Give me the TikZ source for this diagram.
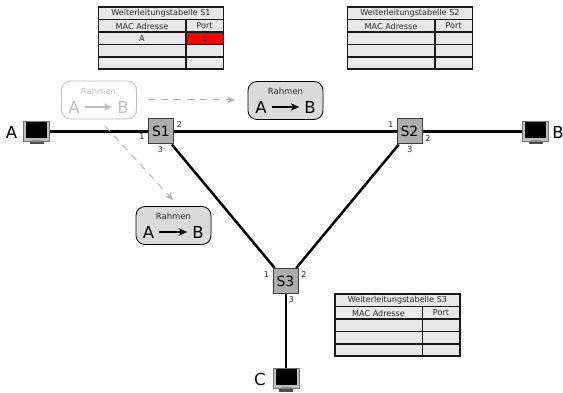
\documentclass[tikz,border=0pt]{standalone}
\usepackage{fontspec}
\setmainfont{DejaVu Sans}
\usetikzlibrary{arrows.meta}
\tikzset{x=1pt,y=-1pt,
 switchbox/.style={draw=black!75,fill=black!32,line width=1pt,minimum size=25pt,inner sep=0pt,font=\fontsize{14}{14}\selectfont},
 link/.style={line width=2.5pt,black},
 portlabel/.style={font=\fontsize{8}{8}\selectfont,inner sep=0pt,text=black!85},
 hostlabel/.style={font=\fontsize{16.5}{16.5}\selectfont,inner sep=0pt},
 hostbox/.style={draw=black!55,fill=black!25,line width=.7pt,minimum width=26pt,minimum height=20pt,inner sep=0pt},
 frame/.style={draw=black,fill=black!14,rounded corners=9pt,line width=.8pt,minimum width=75pt,minimum height=38pt,inner sep=0pt},
 ghostframe/.style={draw=black!25,fill=white,rounded corners=9pt,line width=.8pt,minimum width=75pt,minimum height=38pt,inner sep=0pt},
 ttext/.style={font=\fontsize{8.1}{8.1}\selectfont,inner sep=0pt,text=black!85},
 frametitle/.style={font=\fontsize{8.5}{8.5}\selectfont,inner sep=0pt,text=black!85},
 framebig/.style={font=\fontsize{16.5}{16.5}\selectfont,inner sep=0pt},
 framearrow/.style={line width=1.2pt,-{Stealth[length=8.5pt,width=7.5pt]}},
 ghostline/.style={draw=black!30,line width=1pt,dash pattern=on 7pt off 6pt,-{Stealth[length=8pt,width=7pt]}},
 tline/.style={draw=black!90,line width=1.1pt},
}
\newcommand{\fwtable}[3]{%
 \fill[black!9] (#1,#2) rectangle ++(125,62);
 \draw[tline] (#1,#2) rectangle ++(125,62);
 \foreach \r in {12.5,25,37.5,50}{\draw[tline] (#1,#2+\r) -- ++(125,0);}
 \draw[tline] (#1+87.5,#2+12.5) -- ++(0,49.5);
 \node[ttext] at (#1+62.5,#2+6.5) {Weiterleitungstabelle #3};
 \node[ttext] at (#1+43.5,#2+19) {MAC Adresse};
 \node[ttext] at (#1+106,#2+19) {Port};
}
\newcommand{\hostpc}[2]{%
 \fill[black!45] (#1-5,#2+10) rectangle (#1+5,#2+13);
 \fill[black!70] (#1-7,#2+12) rectangle (#1+7,#2+14.5);
 \fill[black] (#1-10.5,#2-8) rectangle (#1+10.5,#2+8);
}
\begin{document}
\begin{tikzpicture}
\useasboundingbox (0,0) rectangle (563,393);
\fwtable{98.5}{7}{S1}
\fill[red] (186,32.5) rectangle (223.5,44.5);
\draw[tline] (98.5,32) -- ++(125,0) (98.5,44.5) -- ++(125,0) (186,19.5) -- ++(0,49.5) (223.5,19.5) -- ++(0,49.5);
\node[ttext] at (142,38.5) {A};
\node[ttext] at (204.5,38.5) {1};
\fwtable{347.5}{7}{S2}
\fwtable{335}{294}{S3}
\node[hostbox] (hA) at (36.5,131.5) {};
\node[hostbox] (hB) at (535.5,131.5) {};
\node[hostbox] (hC) at (286,378) {};
\node[switchbox] (S3) at (285.5,281) {};
\node[switchbox] (S1) at (161,131.5) {};
\node[switchbox] (S2) at (409.5,131.5) {};
\draw[link] (hA) -- (S1);
\draw[link] (S1) -- (S2);
\draw[link] (S2) -- (hB);
\draw[link] (S1) -- (S3);
\draw[link] (S2) -- (S3);
\draw[link] (S3.south -| hC) -- (hC);
\node[switchbox] at (S1) {S1};
\node[switchbox] at (S2) {S2};
\node[switchbox] at (S3) {S3};
\hostpc{36.5}{130}
\hostpc{535.5}{130}
\hostpc{286}{377}
\node[hostlabel] at (11.5,132) {A};
\node[hostlabel] at (558,132) {B};
\node[hostlabel] at (260,379) {C};
\node[portlabel] at (142,137) {1};
\node[portlabel] at (179.5,125) {2};
\node[portlabel] at (160.5,150) {3};
\node[portlabel] at (391,125) {1};
\node[portlabel] at (428,139) {2};
\node[portlabel] at (410,150) {3};
\node[portlabel] at (266.5,275) {1};
\node[portlabel] at (304,275) {2};
\node[portlabel] at (291.5,299.5) {3};
% ghost frame
\node[ghostframe] (g) at (99,100) {};
\node[frametitle,text=black!25] (gt) at (98.5,91) {Rahmen};
\node[framebig,text=black!25] (gA) at (74,107) {A};
\node[framebig,text=black!25] (gB) at (123,107) {B};
\draw[framearrow,black!25] ([xshift=5pt]gA.east) -- ([xshift=-5pt]gB.west);
% real frames
\node[frame] (f1) at (285.5,100.5) {};
\node[frametitle] at (285.5,91) {Rahmen};
\node[framebig] (f1A) at (261,107) {A};
\node[framebig] (f1B) at (310,107) {B};
\draw[framearrow] ([xshift=5pt]f1A.east) -- ([xshift=-5pt]f1B.west);
\node[frame] (f2) at (173.5,225.5) {};
\node[frametitle] at (173.5,216) {Rahmen};
\node[framebig] (f2A) at (148.5,232) {A};
\node[framebig] (f2B) at (198,232) {B};
\draw[framearrow] ([xshift=5pt]f2A.east) -- ([xshift=-5pt]f2B.west);
\coordinate (d1s) at (148,100);
\coordinate (d1e) at (235,100);
\coordinate (d2s) at (105,126);
\coordinate (d2e) at (173,200);
\draw[ghostline] (d1s) -- (d1e);
\draw[ghostline] (d2s) -- (d2e);
\end{tikzpicture}
\end{document}
